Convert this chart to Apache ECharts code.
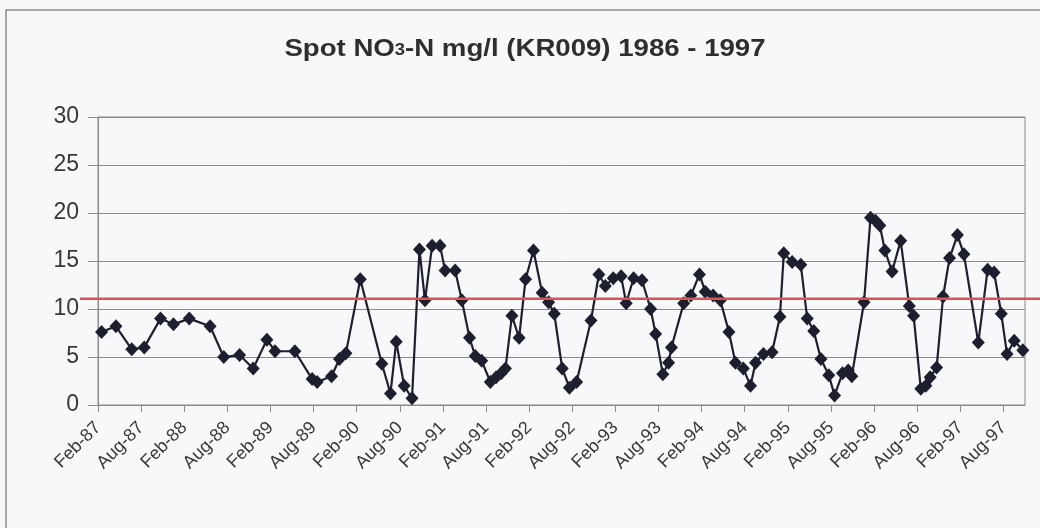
<!DOCTYPE html>
<html>
<head>
<meta charset="utf-8">
<script src="https://cdn.jsdelivr.net/npm/echarts@6/dist/echarts.min.js"></script>
<style>
  html, body { margin: 0; padding: 0; background: #f6f8f9; }
  #chart { width: 1040px; height: 528px; }
</style>
</head>
<body>
<div id="chart"></div>
<script>
// Sample dates (spot samples, KR009)
const sampleDates = [
  '1987-02-16','1987-04-16','1987-06-22','1987-08-14','1987-10-22','1987-12-16',
  '1988-02-22','1988-05-19','1988-07-16','1988-09-22','1988-11-19',
  '1989-01-16','1989-02-20','1989-05-13','1989-07-25','1989-08-16','1989-10-16','1989-11-19','1989-12-16',
  '1990-02-16','1990-05-16','1990-06-22','1990-07-16','1990-08-19','1990-09-22','1990-10-23','1990-11-16','1990-12-16',
  '1991-01-19','1991-02-10','1991-03-22','1991-04-20','1991-05-22','1991-06-16','1991-07-13','1991-08-19','1991-09-13','1991-10-04','1991-10-22','1991-11-19','1991-12-19',
  '1992-01-16','1992-02-19','1992-03-25','1992-04-22','1992-05-16','1992-06-19','1992-07-19','1992-08-19','1992-10-19','1992-11-22','1992-12-19',
  '1993-01-22','1993-02-25','1993-03-16','1993-04-17','1993-05-22','1993-06-28','1993-07-19','1993-08-19','1993-09-13','1993-09-25','1993-11-16','1993-12-16',
  '1994-01-22','1994-02-16','1994-03-19','1994-04-19','1994-05-25','1994-06-22','1994-07-25','1994-08-25','1994-09-16','1994-10-19','1994-11-25','1994-12-28',
  '1995-01-14','1995-02-19','1995-03-25','1995-04-22','1995-05-19','1995-06-19','1995-07-22','1995-08-16','1995-09-19','1995-10-13','1995-10-28','1995-12-19',
  '1996-01-16','1996-02-07','1996-02-25','1996-03-16','1996-04-16','1996-05-22','1996-06-28','1996-07-16','1996-08-16','1996-09-07','1996-09-25','1996-10-22','1996-11-19','1996-12-16',
  '1997-01-19','1997-02-16','1997-04-16','1997-05-25','1997-06-22','1997-07-22','1997-08-16','1997-09-16','1997-10-22'
];

// NO3-N concentration, mg/l
const no3n = [
  7.6, 8.2, 5.8, 6.0, 9.0, 8.4,
  9.0, 8.2, 5.0, 5.2, 3.8,
  6.8, 5.6, 5.6, 2.7, 2.4, 3.0, 4.8, 5.4,
  13.1, 4.3, 1.2, 6.6, 2.0, 0.7, 16.2, 10.9, 16.6,
  16.6, 14.0, 14.0, 10.9, 7.0, 5.1, 4.6, 2.4, 2.9, 3.3, 3.8, 9.3, 7.0,
  13.1, 16.1, 11.7, 10.7, 9.5, 3.8, 1.8, 2.4, 8.8, 13.6, 12.4,
  13.2, 13.4, 10.6, 13.2, 13.0, 10.0, 7.4, 3.2, 4.4, 6.0, 10.6, 11.4,
  13.6, 11.8, 11.4, 10.9, 7.6, 4.4, 3.8, 2.0, 4.4, 5.3, 5.5, 9.2,
  15.8, 14.9, 14.6, 9.0, 7.7, 4.8, 3.1, 1.0, 3.3, 3.6, 3.0, 10.7,
  19.5, 19.2, 18.7, 16.1, 13.9, 17.1, 10.3, 9.3, 1.7, 2.0, 2.9, 3.9, 11.3, 15.3,
  17.7, 15.7, 6.5, 14.1, 13.8, 9.5, 5.3, 6.7, 5.7
];

// Date-axis labels, one every six months from Feb-87
const tickLabels = [
  'Feb-87','Aug-87','Feb-88','Aug-88','Feb-89','Aug-89','Feb-90','Aug-90',
  'Feb-91','Aug-91','Feb-92','Aug-92','Feb-93','Aug-93','Feb-94','Aug-94',
  'Feb-95','Aug-95','Feb-96','Aug-96','Feb-97','Aug-97'
];

// Guide level drawn across the chart (mg/l NO3-N)
const guideLevel = 11.06;

// Months elapsed since 1 Feb 1987 (fractional, for the date axis)
function monthsSinceStart(d) {
  const [y, m, day] = d.split('-').map(Number);
  return (y - 1987) * 12 + (m - 2) + (day - 1) / 30;
}

const seriesData = sampleDates.map((d, i) => [monthsSinceStart(d), no3n[i]]);

const chart = echarts.init(document.getElementById('chart'), null, { renderer: 'canvas' });

const axisColor = '#8a8a8a';
const textColor = '#383838';

chart.setOption({
  backgroundColor: '#f6f8f9',
  animation: false,
  grid: {
    left: 98, right: 15, top: 117, bottom: 123,
    show: true, borderColor: axisColor, borderWidth: 1, backgroundColor: 'transparent'
  },
  xAxis: {
    type: 'value',
    min: 0, max: 129, interval: 6,
    axisLine: { show: true, lineStyle: { color: axisColor, width: 1 } },
    axisTick: { show: true, length: 7, inside: false, lineStyle: { color: axisColor } },
    splitLine: { show: false },
    axisLabel: {
      rotate: 45, margin: 20, color: textColor,
      fontFamily: 'Liberation Sans, Arial, sans-serif', fontSize: 18,
      showMaxLabel: false,
      formatter: v => (v % 6 === 0 && tickLabels[v / 6]) ? tickLabels[v / 6] : ''
    }
  },
  yAxis: {
    type: 'value',
    min: 0, max: 30, interval: 5,
    axisLine: { show: true, lineStyle: { color: axisColor, width: 1 } },
    axisTick: { show: true, length: 10, inside: false, lineStyle: { color: axisColor } },
    splitLine: { show: true, lineStyle: { color: axisColor, width: 1 } },
    axisLabel: {
      margin: 19, color: textColor,
      fontFamily: 'Liberation Sans, Arial, sans-serif', fontSize: 23
    }
  },
  series: [{
    type: 'line',
    data: seriesData,
    symbol: 'diamond',
    symbolSize: [13, 14],
    itemStyle: { color: '#1d1f2e' },
    lineStyle: { color: '#1d1f2e', width: 2.2 }
  }]
});

// Outer chart frame, title and the guide line across the whole chart width
const guideY = chart.convertToPixel({ yAxisIndex: 0 }, guideLevel);

chart.setOption({
  graphic: [
    {
      type: 'rect',
      shape: { x: 6, y: 10, width: 1100, height: 600 },
      style: { fill: 'none', stroke: '#8c8c8c', lineWidth: 1.5 },
      silent: true
    },
    {
      type: 'text',
      x: 525, y: 47,
      scaleX: 1.15,
      style: {
        text: '{a|Spot NO}{b|3}{a|-N mg/l (KR009) 1986 - 1997}',
        align: 'center', verticalAlign: 'middle',
        rich: {
          a: { fontFamily: 'Liberation Sans, Arial, sans-serif', fontWeight: 'bold', fontSize: 24, fill: '#2e2e2e', lineHeight: 28, verticalAlign: 'bottom' },
          b: { fontFamily: 'Liberation Sans, Arial, sans-serif', fontWeight: 'bold', fontSize: 16, fill: '#2e2e2e', lineHeight: 28, verticalAlign: 'bottom', padding: [0, 0, 2, 0] }
        }
      },
      silent: true
    },
    {
      type: 'line',
      shape: { x1: 80, y1: guideY, x2: 1040, y2: guideY },
      style: { stroke: '#e0505c', lineWidth: 2.5 },
      silent: true,
      z: 10
    }
  ]
});
</script>
</body>
</html>
